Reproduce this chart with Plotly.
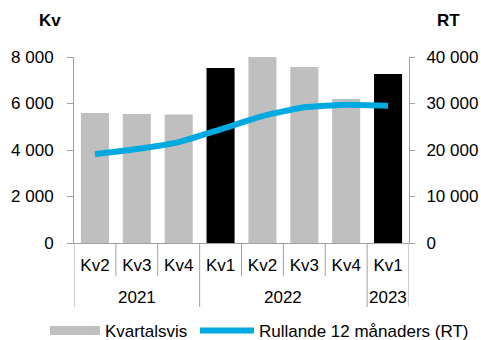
import plotly.graph_objects as go

years = ["2021", "2021", "2021", "2022", "2022", "2022", "2022", "2023"]
quarters = ["Kv2", "Kv3", "Kv4", "Kv1", "Kv2", "Kv3", "Kv4", "Kv1"]
kvartal = [5590, 5550, 5530, 7530, 8040, 7570, 6190, 7270]
rullande = [19100, 20200, 21700, 24450, 27300, 29180, 29750, 29530]

FONT = "Liberation Sans, Arial, sans-serif"
GRAY = "#BFBFBF"
BLUE = "#00A9E0"
AX = "#A0A0A0"
FS = 17

pos = list(range(len(quarters)))
bar_colors = ["#000000" if q == "Kv1" else GRAY for q in quarters]

fig = go.Figure()
fig.add_trace(go.Bar(x=pos, y=kvartal, marker=dict(color=bar_colors, line=dict(width=0)),
                     width=0.67, name="Kvartalsvis", showlegend=False))
fig.add_trace(go.Scatter(x=pos, y=rullande, yaxis="y2", mode="lines",
                         line=dict(color=BLUE, width=6, shape="spline", smoothing=0.45),
                         name="Rullande 12 månaders (RT)", showlegend=False))
# legend entries
fig.add_trace(go.Scatter(x=[None], y=[None], mode="lines", line=dict(color=GRAY, width=9),
                         name="Kvartalsvis", legend="legend"))
fig.add_trace(go.Scatter(x=[None], y=[None], mode="lines", line=dict(color=BLUE, width=6),
                         name="Rullande 12 månaders (RT)", legend="legend2"))

L, R, T, B = 74, 72, 57, 97
W, H = 481, 340
pw, ph = W - L - R, H - T - B
px = lambda x: (x - L) / pw
py = lambda y: (H - B - y) / ph
cx = lambda x: x / W
cy = lambda y: (H - y) / H

shapes = []
n = len(quarters)
group_bounds = [-0.5] + [i + 0.5 for i in range(n - 1) if years[i] != years[i + 1]] + [n - 0.5]
for i in range(n + 1):
    b = i - 0.5
    long = b in group_bounds
    shapes.append(dict(type="line", xref="x", yref="paper", x0=b, x1=b, y0=0,
                       y1=-(64 if long else 33) / ph, line=dict(color=AX, width=1)))

annotations = []
for gi in range(len(group_bounds) - 1):
    a, b = group_bounds[gi], group_bounds[gi + 1]
    yr = years[int(a + 0.5)]
    annotations.append(dict(text=yr, x=(a + b) / 2, xref="x", y=py(297), yref="paper",
                            showarrow=False, xanchor="center", yanchor="middle",
                            font=dict(size=FS)))
annotations.append(dict(text="<b>Kv</b>", x=px(50), y=py(21), xref="paper", yref="paper",
                        showarrow=False, xanchor="center", yanchor="middle", font=dict(size=FS)))
annotations.append(dict(text="<b>RT</b>", x=px(448), y=py(21), xref="paper", yref="paper",
                        showarrow=False, xanchor="center", yanchor="middle", font=dict(size=FS)))

fig.update_layout(
    width=W, height=H,
    margin=dict(l=L, r=R, t=T, b=B, autoexpand=False),
    paper_bgcolor="white", plot_bgcolor="white",
    separators=", ",
    font=dict(family=FONT, size=FS, color="#000000"),
    showlegend=True,
    legend=dict(orientation="h", xref="container", x=cx(45), xanchor="left",
                yref="container", y=cy(331), yanchor="middle",
                font=dict(size=FS), itemwidth=50, bgcolor="rgba(0,0,0,0)"),
    legend2=dict(orientation="h", xref="container", x=cx(195), xanchor="left",
                 yref="container", y=cy(331), yanchor="middle",
                 font=dict(size=FS), itemwidth=54, bgcolor="rgba(0,0,0,0)"),
    xaxis=dict(range=[-0.5, n - 0.5], tickvals=pos, ticktext=quarters, ticks="",
               showline=True, linecolor=AX, linewidth=1, showgrid=False, zeroline=False,
               tickfont=dict(size=FS), ticklabelstandoff=7),
    yaxis=dict(range=[0, 8000], tickvals=[0, 2000, 4000, 6000, 8000], showgrid=False,
               showline=True, linecolor=AX, ticks="outside", ticklen=6,
               tickcolor=AX, tickformat=",d", zeroline=False, tickfont=dict(size=FS),
               ticklabelstandoff=10),
    yaxis2=dict(range=[0, 40000], tickvals=[0, 10000, 20000, 30000, 40000], overlaying="y",
                side="right", showgrid=False, showline=True, linecolor=AX, ticks="outside",
                ticklen=5, tickcolor=AX, tickformat=",d", zeroline=False,
                tickfont=dict(size=FS), ticklabelstandoff=8),
    shapes=shapes,
    annotations=annotations,
)

fig.write_html("out.html")
